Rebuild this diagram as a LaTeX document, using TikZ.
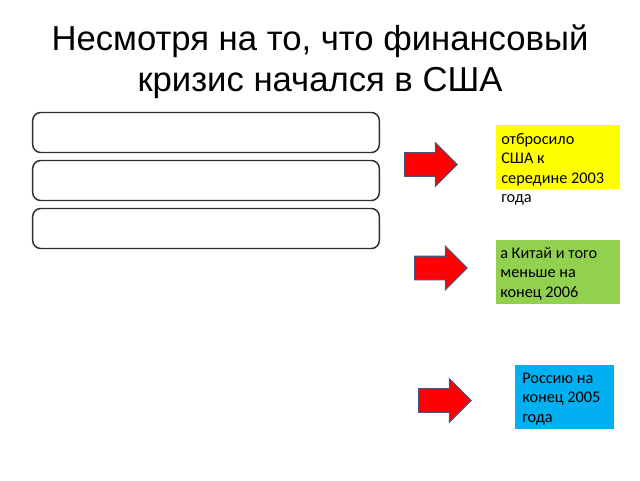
\documentclass[tikz,border=0pt]{standalone}
\usepackage{fontspec}
\setmainfont{Liberation Sans}
\newfontfamily\boxfont{Carlito}
\usepackage{tikz}
\definecolor{cy}{RGB}{255, 255, 0}
\definecolor{cg}{RGB}{146, 208, 80}
\definecolor{cb}{RGB}{0, 176, 240}
\definecolor{cr}{RGB}{255, 0, 0}
\definecolor{co}{RGB}{72, 84, 128}
\definecolor{ck}{RGB}{45, 45, 45}
\usetikzlibrary{positioning}
\usetikzlibrary{shapes.arrows}

\begin{document}
\begin{tikzpicture}[x=0.75pt, y=-0.75pt,
  every node/.style={inner sep=0pt},
  bar/.style={rectangle, rounded corners=6pt, draw=ck, line width=1.1pt, minimum width=260pt, minimum height=30pt},
  redarrow/.style={single arrow, anchor=tail, fill=cr, draw=co, line width=0.8pt, minimum height=39.5pt, single arrow head extend=7.5pt, inner ysep=8.4pt, inner xsep=0pt},
  note/.style={rectangle, minimum width=93pt, minimum height=48pt},
  notetext/.style={anchor=base west, align=left, font=\boxfont\fontsize{12.2}{14.6}\selectfont}
]
\path [use as bounding box] (0, 0) rectangle (640, 480);
% the base anchor sits on the last line
\node (title) [anchor=base, align=center, font=\fontsize{26}{30.75}\selectfont] at (320, 91) {Несмотря на то, что финансовый\\кризис начался в США};
\node (bar1) [bar] at (206, 132.5) {};
\node (bar2) [bar] at (206, 180.5) {};
\node (bar3) [bar] at (206, 228.5) {};
\node (arr1) [redarrow] at (404, 164.5) {};
\node (arr2) [redarrow] at (414, 268) {};
\node (arr3) [redarrow] at (418, 400.5) {};
\node (usa) [note, fill=cy] at (558, 157) {};
\node (china) [note, fill=cg] at (557.5, 272) {};
\node (russia) [note, fill=cb, minimum width=74.25pt] at (564.5, 397) {};
\node (usatext) [notetext] at (501, 202.5) {отбросило\\США к\\середине 2003\\года};
\node (chinatext) [notetext] at (500, 297) {а Китай и того\\меньше на\\конец 2006};
\node (russiatext) [notetext] at (522, 422) {Россию на\\конец 2005\\года};
\end{tikzpicture}
\end{document}
